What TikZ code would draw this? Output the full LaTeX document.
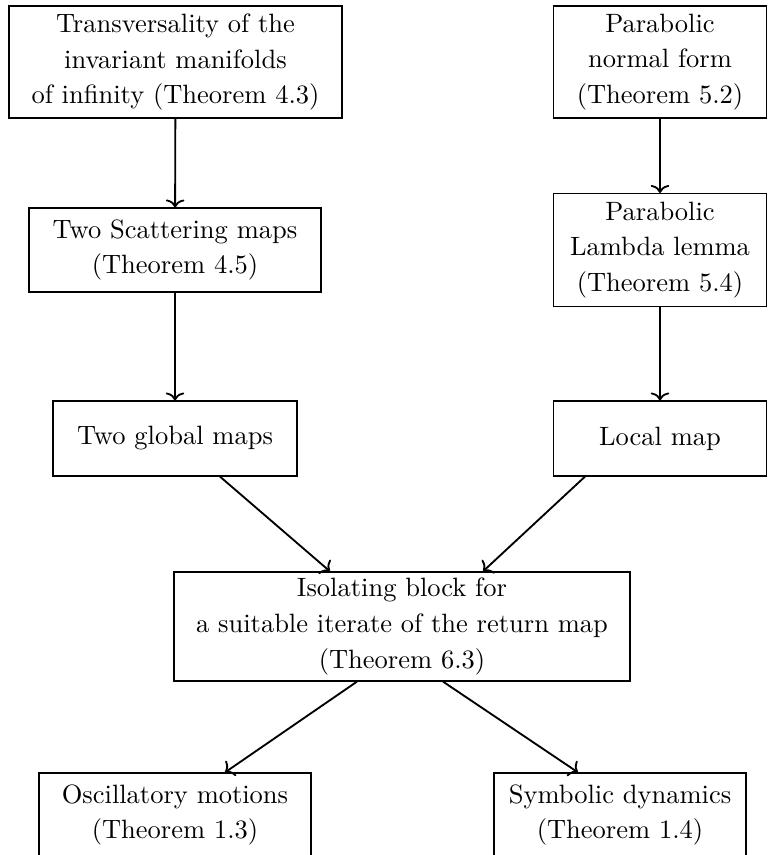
\documentclass[tikz,border=0pt]{standalone}
\usetikzlibrary{arrows.meta}
\newdimen\pxu \pxu=0.3774pt
\begin{document}
\begin{tikzpicture}[x=0.3774pt, y=-0.3774pt,
  box/.style={draw, line width=0.45pt, align=center, inner sep=0pt, font=\fontsize{10}{13.5}\selectfont},
  arr/.style={-{To[length=3pt,width=7pt]}, line width=0.7pt}]
\clip (0,0) rectangle (769,855);
\node[box, minimum width=333*\pxu, minimum height=112*\pxu] (b1) at (175.5,62)
  {Transversality of the\\invariant manifolds\\of infinity (Theorem 4.3)};
\node[box, minimum width=213*\pxu, minimum height=112*\pxu] (b2) at (660,62)
  {Parabolic\\normal form\\(Theorem 5.2)};
\node[box, minimum width=292*\pxu, minimum height=84*\pxu] (b3) at (175,250)
  {Two Scattering maps\\(Theorem 4.5)};
\node[box, minimum width=213*\pxu, minimum height=113*\pxu] (b4) at (660,250)
  {Parabolic\\Lambda lemma\\(Theorem 5.4)};
\node[box, minimum width=244*\pxu, minimum height=75*\pxu] (b5) at (175,438.5)
  {Two global maps};
\node[box, minimum width=213*\pxu, minimum height=75*\pxu] (b6) at (660,438.5)
  {Local map};
\node[box, minimum width=456*\pxu, minimum height=109*\pxu] (b7) at (402,626.5)
  {Isolating block for\\a suitable iterate of the return map\\(Theorem 6.3)};
\node[box, minimum width=272*\pxu, minimum height=84*\pxu] (b8) at (175,815)
  {Oscillatory motions\\(Theorem 1.3)};
\node[box, minimum width=252*\pxu, minimum height=84*\pxu] (b9) at (620,815)
  {Symbolic dynamics\\(Theorem 1.4)};
\draw[arr] (b1) -- (b3);
\draw[arr] (b3) -- (b5);
\draw[arr] (b2) -- (b4);
\draw[arr] (b4) -- (b6);
\draw[arr] ([xshift=45*\pxu]b5.south) -- ([xshift=-72*\pxu]b7.north);
\draw[arr] ([xshift=-75*\pxu]b6.south) -- ([xshift=81*\pxu]b7.north);
\draw[arr] ([xshift=-45*\pxu]b7.south) -- ([xshift=50*\pxu]b8.north);
\draw[arr] ([xshift=41*\pxu]b7.south) -- ([xshift=-42*\pxu]b9.north);
\end{tikzpicture}
\end{document}
